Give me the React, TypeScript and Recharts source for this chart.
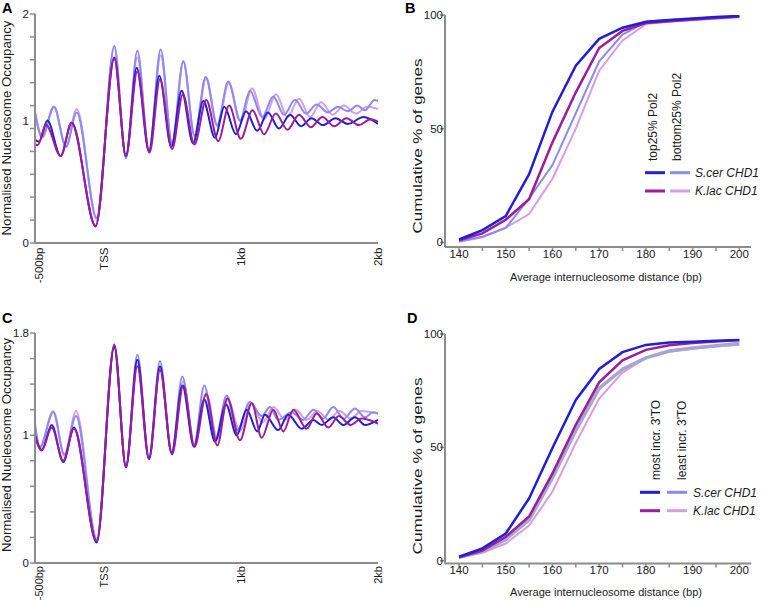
import React from 'react'
import { LineChart, Line, XAxis, YAxis, Legend } from 'recharts'

// ---------------------------------------------------------------------------
// Colours
// ---------------------------------------------------------------------------

const C_SCER_TOP = '#1f1fd6'
const C_SCER_BOT = '#8a8af0'
const C_KLAC_TOP = '#9c1c9c'
const C_KLAC_BOT = '#d99ce2'
const C_SCER_BOT_D = '#a6a6cf' // looks greyish in panel D
const AXIS = '#8c8c8c'
const INK = '#1a1a1a'
const FONT = 'Arial, "Liberation Sans", Helvetica, sans-serif'

// ---------------------------------------------------------------------------
// Panels A / C: nucleosome occupancy around the TSS, [position (bp), occupancy]
// at peaks and troughs
// ---------------------------------------------------------------------------

const POS_TICKS = [-500, 0, 1000, 2000]
const POS_LABELS = ['-500bp', 'TSS', '1kb', '2kb']
const OCC_TICKS_A = [0, 0.2, 0.4, 0.6, 0.8, 1, 1.2, 1.4, 1.6, 1.8, 2]
const OCC_LABELS_A = [0, 1, 2]
const OCC_TICKS_C = [0, 0.2, 0.4, 0.6, 0.8, 1, 1.2, 1.4, 1.6, 1.8]
const OCC_LABELS_C = [0, 1, 1.8]

const A_SCER_TOP: [number, number][] = [
  [-500, 0.90], [-470, 0.885], [-410, 1.07], [-313, 0.76], [-233, 1.05], [-58, 0.145],
  [78, 1.62], [163, 0.76], [241, 1.53], [331, 0.80], [406, 1.46], [493, 0.84],
  [569, 1.33], [652, 0.87], [727, 1.24], [812, 0.92], [880, 1.19], [965, 0.95],
  [1038, 1.15], [1120, 0.98], [1198, 1.14], [1278, 1.00], [1359, 1.12], [1440, 1.02],
  [1515, 1.09], [1600, 1.03], [1690, 1.09], [1780, 1.04], [1895, 1.10], [2000, 1.04],
]
const A_KLAC_TOP: [number, number][] = [
  [-500, 0.86], [-480, 0.855], [-420, 1.03], [-313, 0.76], [-233, 1.05], [-58, 0.15],
  [78, 1.61], [163, 0.76], [246, 1.50], [335, 0.79], [411, 1.43], [499, 0.82],
  [578, 1.30], [662, 0.86], [748, 1.25], [835, 0.89], [915, 1.20], [1000, 0.91],
  [1085, 1.16], [1170, 0.95], [1255, 1.13], [1340, 0.99], [1425, 1.12], [1510, 1.01],
  [1595, 1.10], [1680, 1.02], [1770, 1.09], [1860, 1.03], [1945, 1.08], [2000, 1.06],
]
const A_SCER_BOT: [number, number][] = [
  [-500, 1.15], [-448, 0.93], [-362, 1.19], [-274, 0.84], [-196, 1.14], [-50, 0.22],
  [78, 1.72], [163, 0.74], [246, 1.68], [331, 0.80], [416, 1.69], [499, 0.87],
  [581, 1.59], [663, 0.94], [744, 1.45], [827, 1.03], [909, 1.41], [994, 1.07],
  [1067, 1.33], [1155, 1.10], [1237, 1.28], [1315, 1.12], [1395, 1.25], [1475, 1.13],
  [1553, 1.21], [1636, 1.14], [1708, 1.19], [1780, 1.15], [1850, 1.20], [1905, 1.16],
  [1975, 1.25], [2000, 1.24],
]
const A_KLAC_BOT: [number, number][] = [
  [-500, 1.13], [-448, 0.92], [-362, 1.19], [-274, 0.84], [-196, 1.17], [-48, 0.20],
  [78, 1.71], [163, 0.75], [246, 1.62], [331, 0.79], [416, 1.64], [499, 0.86],
  [581, 1.58], [663, 0.93], [748, 1.44], [830, 1.02], [912, 1.40], [1000, 1.06],
  [1082, 1.35], [1170, 1.08], [1257, 1.30], [1340, 1.10], [1424, 1.26], [1505, 1.10],
  [1585, 1.23], [1670, 1.12], [1752, 1.20], [1840, 1.13], [1920, 1.19], [2000, 1.17],
]

const C_SCER_TOP_P: [number, number][] = [
  [-500, 1.00], [-451, 0.885], [-378, 1.08], [-294, 0.79], [-216, 1.06], [-50, 0.16],
  [78, 1.69], [163, 0.75], [246, 1.59], [331, 0.82], [411, 1.54], [496, 0.86],
  [574, 1.39], [659, 0.91], [734, 1.28], [812, 0.95], [892, 1.24], [970, 1.00],
  [1043, 1.20], [1120, 1.03], [1176, 1.16], [1273, 1.04], [1346, 1.16], [1444, 1.05],
  [1528, 1.12], [1590, 1.08], [1674, 1.14], [1747, 1.08], [1832, 1.14], [1905, 1.08],
  [2000, 1.12],
]
const C_KLAC_TOP_P: [number, number][] = [
  [-500, 0.99], [-451, 0.88], [-378, 1.06], [-294, 0.80], [-216, 1.05], [-50, 0.17],
  [78, 1.71], [163, 0.75], [246, 1.54], [331, 0.81], [411, 1.51], [499, 0.85],
  [581, 1.39], [663, 0.91], [748, 1.32], [829, 0.92], [902, 1.29], [994, 0.96],
  [1080, 1.25], [1152, 0.98], [1237, 1.20], [1310, 1.03], [1383, 1.20], [1480, 1.05],
  [1553, 1.17], [1638, 1.06], [1715, 1.15], [1800, 1.08], [1880, 1.13], [2000, 1.09],
]
const C_SCER_BOT_P: [number, number][] = [
  [-500, 1.09], [-464, 0.91], [-367, 1.18], [-286, 0.85], [-201, 1.15], [-50, 0.18],
  [78, 1.70], [163, 0.75], [246, 1.63], [331, 0.82], [411, 1.58], [496, 0.86],
  [574, 1.46], [659, 0.92], [734, 1.39], [815, 0.97], [897, 1.31], [975, 1.04],
  [1067, 1.26], [1152, 1.15], [1213, 1.22], [1273, 1.12], [1371, 1.18], [1453, 1.12],
  [1530, 1.20], [1600, 1.13], [1674, 1.22], [1750, 1.13], [1832, 1.21], [1905, 1.14],
  [1966, 1.18], [2000, 1.17],
]
const C_KLAC_BOT_P: [number, number][] = [
  [-500, 1.05], [-464, 0.90], [-367, 1.19], [-286, 0.84], [-201, 1.19], [-50, 0.19],
  [78, 1.70], [163, 0.76], [246, 1.57], [331, 0.82], [411, 1.53], [499, 0.86],
  [581, 1.42], [663, 0.92], [748, 1.33], [830, 0.97], [905, 1.28], [994, 1.03],
  [1075, 1.25], [1160, 1.10], [1240, 1.22], [1320, 1.12], [1400, 1.20], [1480, 1.12],
  [1560, 1.19], [1640, 1.12], [1720, 1.19], [1800, 1.13], [1880, 1.19], [2000, 1.17],
]

// ---------------------------------------------------------------------------
// Panels B / D: cumulative % of genes vs average internucleosome distance
// ---------------------------------------------------------------------------

const DIST = [140, 145, 150, 155, 160, 165, 170, 175, 180, 185, 190, 195, 200]

const B_SCER_TOP = [1.3, 5.4, 11.6, 30.0, 57.5, 77.7, 89.5, 94.4, 97.0, 97.8, 98.5, 99.1, 99.6]
const B_KLAC_TOP = [1.0, 4.0, 10.0, 19.0, 44.0, 66.0, 85.5, 93.0, 96.5, 97.3, 98.0, 98.7, 99.3]
const B_SCER_BOT = [0.5, 2.5, 6.4, 19.4, 34.0, 56.8, 79.6, 91.4, 97.0, 97.8, 98.4, 99.0, 99.5]
const B_KLAC_BOT = [0.3, 2.3, 6.5, 12.5, 28.0, 50.0, 75.5, 88.8, 96.0, 97.0, 97.7, 98.3, 99.0]

const D_SCER_TOP = [1.8, 5.5, 12.0, 27.5, 49.7, 70.9, 84.6, 92.0, 95.2, 96.2, 96.6, 97.0, 97.3]
const D_KLAC_TOP = [1.5, 4.5, 10.6, 19.5, 38.5, 60.0, 78.7, 88.4, 93.0, 95.0, 96.0, 96.7, 97.3]
const D_SCER_BOT = [1.5, 4.0, 9.4, 18.0, 36.5, 57.5, 76.0, 84.5, 89.5, 92.5, 93.8, 94.8, 95.8]
const D_KLAC_BOT = [1.5, 3.5, 7.6, 15.5, 30.5, 52.0, 71.5, 83.0, 89.5, 92.2, 93.5, 94.5, 95.3]

// ---------------------------------------------------------------------------
// Helpers
// ---------------------------------------------------------------------------

const pts = (s: [number, number][]) => s.map(([x, y]) => ({ x, y }))

const distRows = (st: number[], kt: number[], sb: number[], kb: number[]) =>
  DIST.map((x, i) => ({ x, scerTop: st[i], klacTop: kt[i], scerBot: sb[i], klacBot: kb[i] }))

function PosTick(props: any) {
  const { x, y, payload, drop, size } = props
  const label = POS_LABELS[POS_TICKS.indexOf(payload.value)]
  const shift = payload.value === -500 ? 8 : 4
  return (
    <text
      transform={`translate(${x + shift},${y + drop}) rotate(-90)`}
      textAnchor="end"
      fontSize={size}
      fontFamily={FONT}
      fill={INK}
    >
      {label}
    </text>
  )
}

function OccTick(props: any) {
  const { x, y, payload, labels, nudge } = props
  if (!labels.includes(payload.value)) return null
  const dy = nudge && payload.value === 1 ? -8 : 0
  return (
    <text x={x + 1} y={y + dy} dy="0.35em" textAnchor="end" fontSize={11.5} fontFamily={FONT} fill={INK}>
      {payload.value}
    </text>
  )
}

function DistTick(props: any) {
  const { x, y, payload } = props
  if (payload.value % 10 !== 0) return null
  return (
    <text x={x} y={y + 6.5} textAnchor="middle" fontSize={11.5} fontFamily={FONT} fill={INK}>
      {payload.value}
    </text>
  )
}

function PctTick(props: any) {
  const { x, y, payload } = props
  return (
    <text x={x + 5} y={y} dy="0.35em" textAnchor="end" fontSize={11.5} fontFamily={FONT} fill={INK}>
      {payload.value}
    </text>
  )
}

interface LegendSpot {
  h1x: number
  h2x: number
  hy: number
  r1: number
  r2: number
  l1: [number, number]
  l2: [number, number]
  tx: number
}

function PairLegend({ heads, spot, light }: { heads: [string, string]; spot: LegendSpot; light: string }) {
  const t = { fontSize: 12, fontFamily: FONT, fill: INK }
  return (
    <svg width={381} height={301} style={{ display: 'block', overflow: 'visible' }}>
      <text transform={`translate(${spot.h1x},${spot.hy}) rotate(-90)`} {...t}>{heads[0]}</text>
      <text transform={`translate(${spot.h2x},${spot.hy}) rotate(-90)`} {...t}>{heads[1]}</text>
      <line x1={spot.l1[0]} x2={spot.l1[1]} y1={spot.r1} y2={spot.r1} stroke={C_SCER_TOP} strokeWidth={3} />
      <line x1={spot.l2[0]} x2={spot.l2[1]} y1={spot.r1} y2={spot.r1} stroke={light} strokeWidth={3} />
      <line x1={spot.l1[0]} x2={spot.l1[1]} y1={spot.r2} y2={spot.r2} stroke={C_KLAC_TOP} strokeWidth={3} />
      <line x1={spot.l2[0]} x2={spot.l2[1]} y1={spot.r2} y2={spot.r2} stroke={C_KLAC_BOT} strokeWidth={3} />
      <text x={spot.tx} y={spot.r1 + 4.2} fontStyle="italic" {...t}>S.cer CHD1</text>
      <text x={spot.tx} y={spot.r2 + 4.2} fontStyle="italic" {...t}>K.lac CHD1</text>
    </svg>
  )
}

// ---------------------------------------------------------------------------
// Panels
// ---------------------------------------------------------------------------

function OccupancyPanel(props: {
  top: number
  height: number
  marginTop: number
  axisHeight: number
  yMax: number
  ticks: number[]
  labels: number[]
  nudge: boolean
  tickDrop: number
  tickSize: number
  series: [number, number][][]
}) {
  const { top, height, marginTop, axisHeight, yMax, ticks, labels, nudge, tickDrop, tickSize, series } = props
  const [scerTop, klacTop, scerBot, klacBot] = series
  const lineProps = { type: 'monotone' as const, dataKey: 'y', dot: false, isAnimationActive: false }
  return (
    <div style={{ position: 'absolute', left: 0, top }}>
      <LineChart width={390} height={height} margin={{ top: marginTop, right: 12, left: 0, bottom: 0 }}>
        <XAxis
          type="number"
          dataKey="x"
          domain={[-500, 2000]}
          ticks={POS_TICKS}
          interval={0}
          allowDataOverflow
          height={axisHeight}
          tickSize={0}
          tickMargin={0}
          tickLine={false}
          axisLine={{ stroke: AXIS, strokeWidth: 2 }}
          tick={<PosTick drop={tickDrop} size={tickSize} />}
        />
        <YAxis
          type="number"
          domain={[0, yMax]}
          ticks={ticks}
          interval={0}
          allowDataOverflow
          width={35}
          tickSize={5}
          axisLine={{ stroke: AXIS, strokeWidth: 2 }}
          tickLine={{ stroke: AXIS, strokeWidth: 1.5 }}
          tick={<OccTick labels={labels} nudge={nudge} />}
        />
        <Line {...lineProps} data={pts(klacBot)} stroke={C_KLAC_BOT} strokeWidth={2} />
        <Line {...lineProps} data={pts(scerBot)} stroke={C_SCER_BOT} strokeWidth={2} />
        <Line {...lineProps} data={pts(scerTop)} stroke={C_SCER_TOP} strokeWidth={2} />
        <Line {...lineProps} data={pts(klacTop)} stroke={C_KLAC_TOP} strokeWidth={2} />
      </LineChart>
    </div>
  )
}

function CumulativePanel(props: {
  top: number
  height: number
  marginTop: number
  axisHeight: number
  yMin: number
  rows: ReturnType<typeof distRows>
  heads: [string, string]
  spot: LegendSpot
  scerBotColor: string
  scerBotWidth: number
}) {
  const { top, height, marginTop, axisHeight, yMin, rows, heads, spot, scerBotColor, scerBotWidth } = props
  const lineProps = { type: 'linear' as const, dot: false, isAnimationActive: false }
  return (
    <div style={{ position: 'absolute', left: 380, top }}>
      <LineChart width={381} height={height} data={rows} margin={{ top: marginTop, right: 10, left: 0, bottom: 0 }}>
        <XAxis
          type="number"
          dataKey="x"
          domain={[137, 202.5]}
          ticks={DIST}
          interval={0}
          allowDataOverflow
          height={axisHeight}
          tickSize={4}
          tickMargin={0}
          axisLine={{ stroke: AXIS, strokeWidth: 2 }}
          tickLine={{ stroke: AXIS, strokeWidth: 1.5 }}
          tick={<DistTick />}
        />
        <YAxis
          type="number"
          domain={[yMin, 100]}
          ticks={[0, 50, 100]}
          interval={0}
          allowDataOverflow
          width={65}
          tickSize={5}
          axisLine={{ stroke: AXIS, strokeWidth: 2 }}
          tickLine={{ stroke: AXIS, strokeWidth: 1.5 }}
          tick={<PctTick />}
        />
        <Legend
          layout="vertical"
          align="center"
          verticalAlign="middle"
          wrapperStyle={{ left: 0, top: 0, width: 381, height, pointerEvents: 'none' }}
          content={() => <PairLegend heads={heads} spot={spot} light={C_SCER_BOT} />}
        />
        <Line {...lineProps} dataKey="klacBot" stroke={C_KLAC_BOT} strokeWidth={2} />
        <Line {...lineProps} dataKey="scerBot" stroke={scerBotColor} strokeWidth={scerBotWidth} />
        <Line {...lineProps} dataKey="klacTop" stroke={C_KLAC_TOP} strokeWidth={2.5} />
        <Line {...lineProps} dataKey="scerTop" stroke={C_SCER_TOP} strokeWidth={2.5} />
      </LineChart>
    </div>
  )
}

// ---------------------------------------------------------------------------
// Figure
// ---------------------------------------------------------------------------

export default function App() {
  const txt = { fontFamily: FONT, fill: INK }
  const letter = { fontFamily: FONT, fill: '#000', fontSize: 14.5, fontWeight: 700 }
  return (
    <div style={{ position: 'absolute', left: 0, top: 0, width: 761, height: 601, background: '#fff', overflow: 'hidden' }}>
      <OccupancyPanel
        top={0}
        height={300}
        marginTop={14}
        axisHeight={57}
        yMax={2}
        ticks={OCC_TICKS_A}
        labels={OCC_LABELS_A}
        nudge
        tickDrop={4.5}
        tickSize={11.5}
        series={[A_SCER_TOP, A_KLAC_TOP, A_SCER_BOT, A_KLAC_BOT]}
      />
      <OccupancyPanel
        top={300}
        height={301}
        marginTop={33}
        axisHeight={38}
        yMax={1.8}
        ticks={OCC_TICKS_C}
        labels={OCC_LABELS_C}
        nudge={false}
        tickDrop={3}
        tickSize={11}
        series={[C_SCER_TOP_P, C_KLAC_TOP_P, C_SCER_BOT_P, C_KLAC_BOT_P]}
      />
      <CumulativePanel
        top={0}
        height={300}
        marginTop={15}
        axisHeight={53}
        yMin={-2}
        rows={distRows(B_SCER_TOP, B_KLAC_TOP, B_SCER_BOT, B_KLAC_BOT)}
        heads={['top25% Pol2', 'bottom25% Pol2']}
        spot={{ h1x: 277, h2x: 301, hy: 161, r1: 172.7, r2: 191, l1: [265, 285], l2: [290, 310], tx: 315 }}
        scerBotColor={C_SCER_BOT}
        scerBotWidth={2}
      />
      <CumulativePanel
        top={300}
        height={301}
        marginTop={34}
        axisHeight={37.5}
        yMin={-1.2}
        rows={distRows(D_SCER_TOP, D_KLAC_TOP, D_SCER_BOT, D_KLAC_BOT)}
        heads={["most incr. 3'TO", "least incr. 3'TO"]}
        spot={{ h1x: 280.3, h2x: 306, hy: 180, r1: 192.3, r2: 210.7, l1: [260, 280], l2: [287, 307], tx: 313 }}
        scerBotColor={C_SCER_BOT_D}
        scerBotWidth={3.5}
      />

      {/* panel letters and axis titles */}
      <svg width={761} height={601} style={{ position: 'absolute', left: 0, top: 0, pointerEvents: 'none' }}>
        <text x={2} y={12.5} {...letter}>A</text>
        <text x={405} y={12.5} {...letter}>B</text>
        <text x={2} y={323} {...letter}>C</text>
        <text x={407} y={323} {...letter}>D</text>

        <text transform="translate(11,128) rotate(-90)" textAnchor="middle" fontSize={12.8} textLength={215} lengthAdjust="spacingAndGlyphs" {...txt}>
          Normalised Nucleosome Occupancy
        </text>
        <text transform="translate(11,445) rotate(-90)" textAnchor="middle" fontSize={12.8} textLength={214} lengthAdjust="spacingAndGlyphs" {...txt}>
          Normalised Nucleosome Occupancy
        </text>

        <text transform="translate(422,146) rotate(-90)" textAnchor="middle" fontSize={13.5} textLength={175} lengthAdjust="spacingAndGlyphs" {...txt}>
          Cumulative % of genes
        </text>
        <text transform="translate(422,466) rotate(-90)" textAnchor="middle" fontSize={13.5} textLength={177} lengthAdjust="spacingAndGlyphs" {...txt}>
          Cumulative % of genes
        </text>

        <text x={606} y={281} textAnchor="middle" fontSize={11.3} textLength={192} lengthAdjust="spacingAndGlyphs" {...txt}>
          Average internucleosome distance (bp)
        </text>
        <text x={606} y={596} textAnchor="middle" fontSize={11.3} textLength={192} lengthAdjust="spacingAndGlyphs" {...txt}>
          Average internucleosome distance (bp)
        </text>
      </svg>
    </div>
  )
}
